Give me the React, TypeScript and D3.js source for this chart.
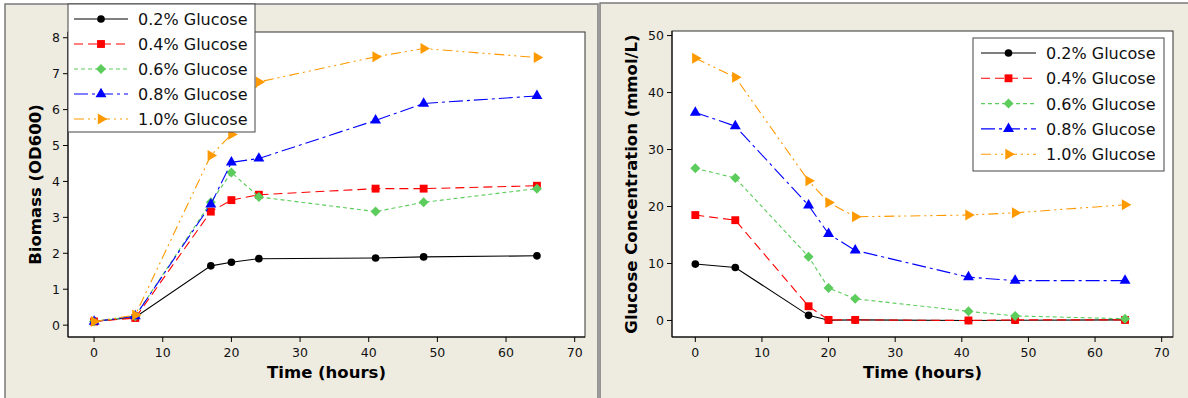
import React from "react";
import * as d3 from "d3";

// sampling times (hours)
const times = [0, 6, 17, 20, 24, 41, 48, 64.5];
const seriesNames = ["0.2% Glucose", "0.4% Glucose", "0.6% Glucose", "0.8% Glucose", "1.0% Glucose"];

// biomass (OD600)
const biomass02 = [0.11, 0.22, 1.65, 1.75, 1.85, 1.87, 1.9, 1.93];
const biomass04 = [0.1, 0.2, 3.16, 3.48, 3.63, 3.8, 3.8, 3.88];
const biomass06 = [0.1, 0.25, 3.42, 4.25, 3.57, 3.16, 3.42, 3.8];
const biomass08 = [0.1, 0.25, 3.36, 4.53, 4.64, 5.7, 6.17, 6.38];
const biomass10 = [0.1, 0.28, 4.72, 5.31, 6.77, 7.47, 7.7, 7.45];

// glucose concentration (mmol/L)
const glucose02 = [9.9, 9.3, 0.9, 0.05, 0.1, 0, 0.05, 0.1];
const glucose04 = [18.5, 17.6, 2.5, 0.1, 0.1, 0, 0.1, 0.1];
const glucose06 = [26.7, 25.0, 11.2, 5.7, 3.8, 1.6, 0.8, 0.3];
const glucose08 = [36.5, 34.1, 20.2, 15.2, 12.3, 7.6, 7.0, 7.0];
const glucose10 = [46.0, 42.7, 24.5, 20.7, 18.2, 18.5, 18.9, 20.3];

const xTicks = [0, 10, 20, 30, 40, 50, 60, 70];
const biomassTicks = [0, 1, 2, 3, 4, 5, 6, 7, 8];
const glucoseTicks = [0, 10, 20, 30, 40, 50];

const styles = [
  { color: "#000000", dash: "none", shape: "circle" },
  { color: "#ff0000", dash: "9,5", shape: "square" },
  { color: "#5ccc5c", dash: "4,3", shape: "diamond" },
  { color: "#0000ff", dash: "14,4,3,4", shape: "triangle" },
  { color: "#ff9900", dash: "10,4,2,4,2,4", shape: "right" },
];

const BG = "#eeebe1";
const FONT = "DejaVu Sans, Verdana, sans-serif";

function marker(shape: string) {
  if (shape === "circle") return { d: d3.symbol().type(d3.symbolCircle).size(46)()!, rot: 0 };
  if (shape === "square") return { d: d3.symbol().type(d3.symbolSquare).size(62)()!, rot: 0 };
  if (shape === "diamond") return { d: d3.symbol().type(d3.symbolSquare).size(50)()!, rot: 45 };
  if (shape === "triangle") return { d: d3.symbol().type(d3.symbolTriangle).size(52)()!, rot: 0 };
  return { d: d3.symbol().type(d3.symbolTriangle).size(52)()!, rot: 90 };
}

function Marker({ x, y, i }: { x: number; y: number; i: number }) {
  const m = marker(styles[i].shape);
  return <path d={m.d} transform={`translate(${x},${y}) rotate(${m.rot})`} fill={styles[i].color} />;
}

function Panel(props: any) {
  const { frame, plot, xDomain, yDomain, yTicks, yLabel, yLabelX, series, legend } = props;
  const x = d3.scaleLinear().domain(xDomain).range([plot.l, plot.r]);
  const y = d3.scaleLinear().domain(yDomain).range([plot.b, plot.t]);
  const line = d3
    .line<number>()
    .x((_, i) => x(times[i]))
    .y((d) => y(d));

  return (
    <g>
      <rect x={frame.x} y={frame.y} width={frame.w} height={frame.h} fill={BG} stroke="#7a7a7a" strokeWidth={1.5} />
      <rect x={plot.l} y={plot.t} width={plot.r - plot.l} height={plot.b - plot.t} fill="#fff" stroke="#333" strokeWidth={1} />

      {/* x axis */}
      <line x1={plot.l} x2={plot.r} y1={plot.b} y2={plot.b} stroke="#000" />
      {xTicks.map((t) => (
        <g key={t}>
          <line x1={x(t)} x2={x(t)} y1={plot.b} y2={plot.b + 5} stroke="#000" />
          <text x={x(t)} y={plot.b + 20} textAnchor="middle" fontSize={12.5} fontFamily={FONT} fill="#111">
            {t}
          </text>
        </g>
      ))}
      <text x={(plot.l + plot.r) / 2} y={plot.b + 41} textAnchor="middle" fontSize={16.5} fontWeight="bold" fontFamily={FONT}>
        Time (hours)
      </text>

      {/* y axis */}
      <line x1={plot.l} x2={plot.l} y1={plot.t} y2={plot.b} stroke="#000" />
      {yTicks.map((t: number) => (
        <g key={t}>
          <line x1={plot.l - 5} x2={plot.l} y1={y(t)} y2={y(t)} stroke="#000" />
          <text x={plot.l - 8} y={y(t) + 4.5} textAnchor="end" fontSize={12.5} fontFamily={FONT} fill="#111">
            {t}
          </text>
        </g>
      ))}
      <text
        transform={`translate(${yLabelX},${(plot.t + plot.b) / 2}) rotate(-90)`}
        textAnchor="middle"
        dy="0.36em"
        fontSize={16.5}
        fontWeight="bold"
        fontFamily={FONT}
      >
        {yLabel}
      </text>

      {/* series */}
      {series.map((vals: number[], i: number) => (
        <g key={i}>
          <path d={line(vals)!} fill="none" stroke={styles[i].color} strokeWidth={1.1} strokeDasharray={styles[i].dash} />
          {vals.map((v, j) => (
            <Marker key={j} x={x(times[j])} y={y(v)} i={i} />
          ))}
        </g>
      ))}

      {/* legend */}
      <rect x={legend.x} y={legend.y} width={legend.w} height={legend.h} fill="#fff" stroke="#444" strokeWidth={1} />
      {seriesNames.map((name, i) => {
        const ry = legend.row0 + i * legend.step;
        return (
          <g key={name}>
            <line x1={legend.l1} x2={legend.l2} y1={ry} y2={ry} stroke={styles[i].color} strokeWidth={1.1} strokeDasharray={styles[i].dash} />
            <Marker x={(legend.l1 + legend.l2) / 2} y={ry} i={i} />
            <text x={legend.tx} y={ry + 6} fontSize={16} fontFamily={FONT} fill="#111">
              {name}
            </text>
          </g>
        );
      })}
    </g>
  );
}

export default function App() {
  return (
    <svg width={1188} height={398} style={{ position: "absolute", left: 0, top: 0, background: "#fff" }}>
      <Panel
        frame={{ x: 5, y: 4, w: 593, h: 400 }}
        plot={{ l: 68, t: 32, r: 585, b: 337 }}
        xDomain={[-3.8, 71.5]}
        yDomain={[-0.33, 8.16]}
        yTicks={biomassTicks}
        yLabel="Biomass (OD600)"
        yLabelX={35}
        series={[biomass02, biomass04, biomass06, biomass08, biomass10]}
        legend={{ x: 68, y: 4, w: 187, h: 128, row0: 19, step: 25, l1: 74, l2: 128, tx: 138 }}
      />
      <Panel
        frame={{ x: 600, y: 3, w: 600, h: 400 }}
        plot={{ l: 672, t: 31, r: 1173, b: 337 }}
        xDomain={[-3.5, 71.7]}
        yDomain={[-2.9, 50.8]}
        yTicks={glucoseTicks}
        yLabel="Glucose Concentration (mmol/L)"
        yLabelX={631}
        series={[glucose02, glucose04, glucose06, glucose08, glucose10]}
        legend={{ x: 973, y: 38, w: 191, h: 133, row0: 53, step: 25.3, l1: 981, l2: 1036, tx: 1046 }}
      />
    </svg>
  );
}
